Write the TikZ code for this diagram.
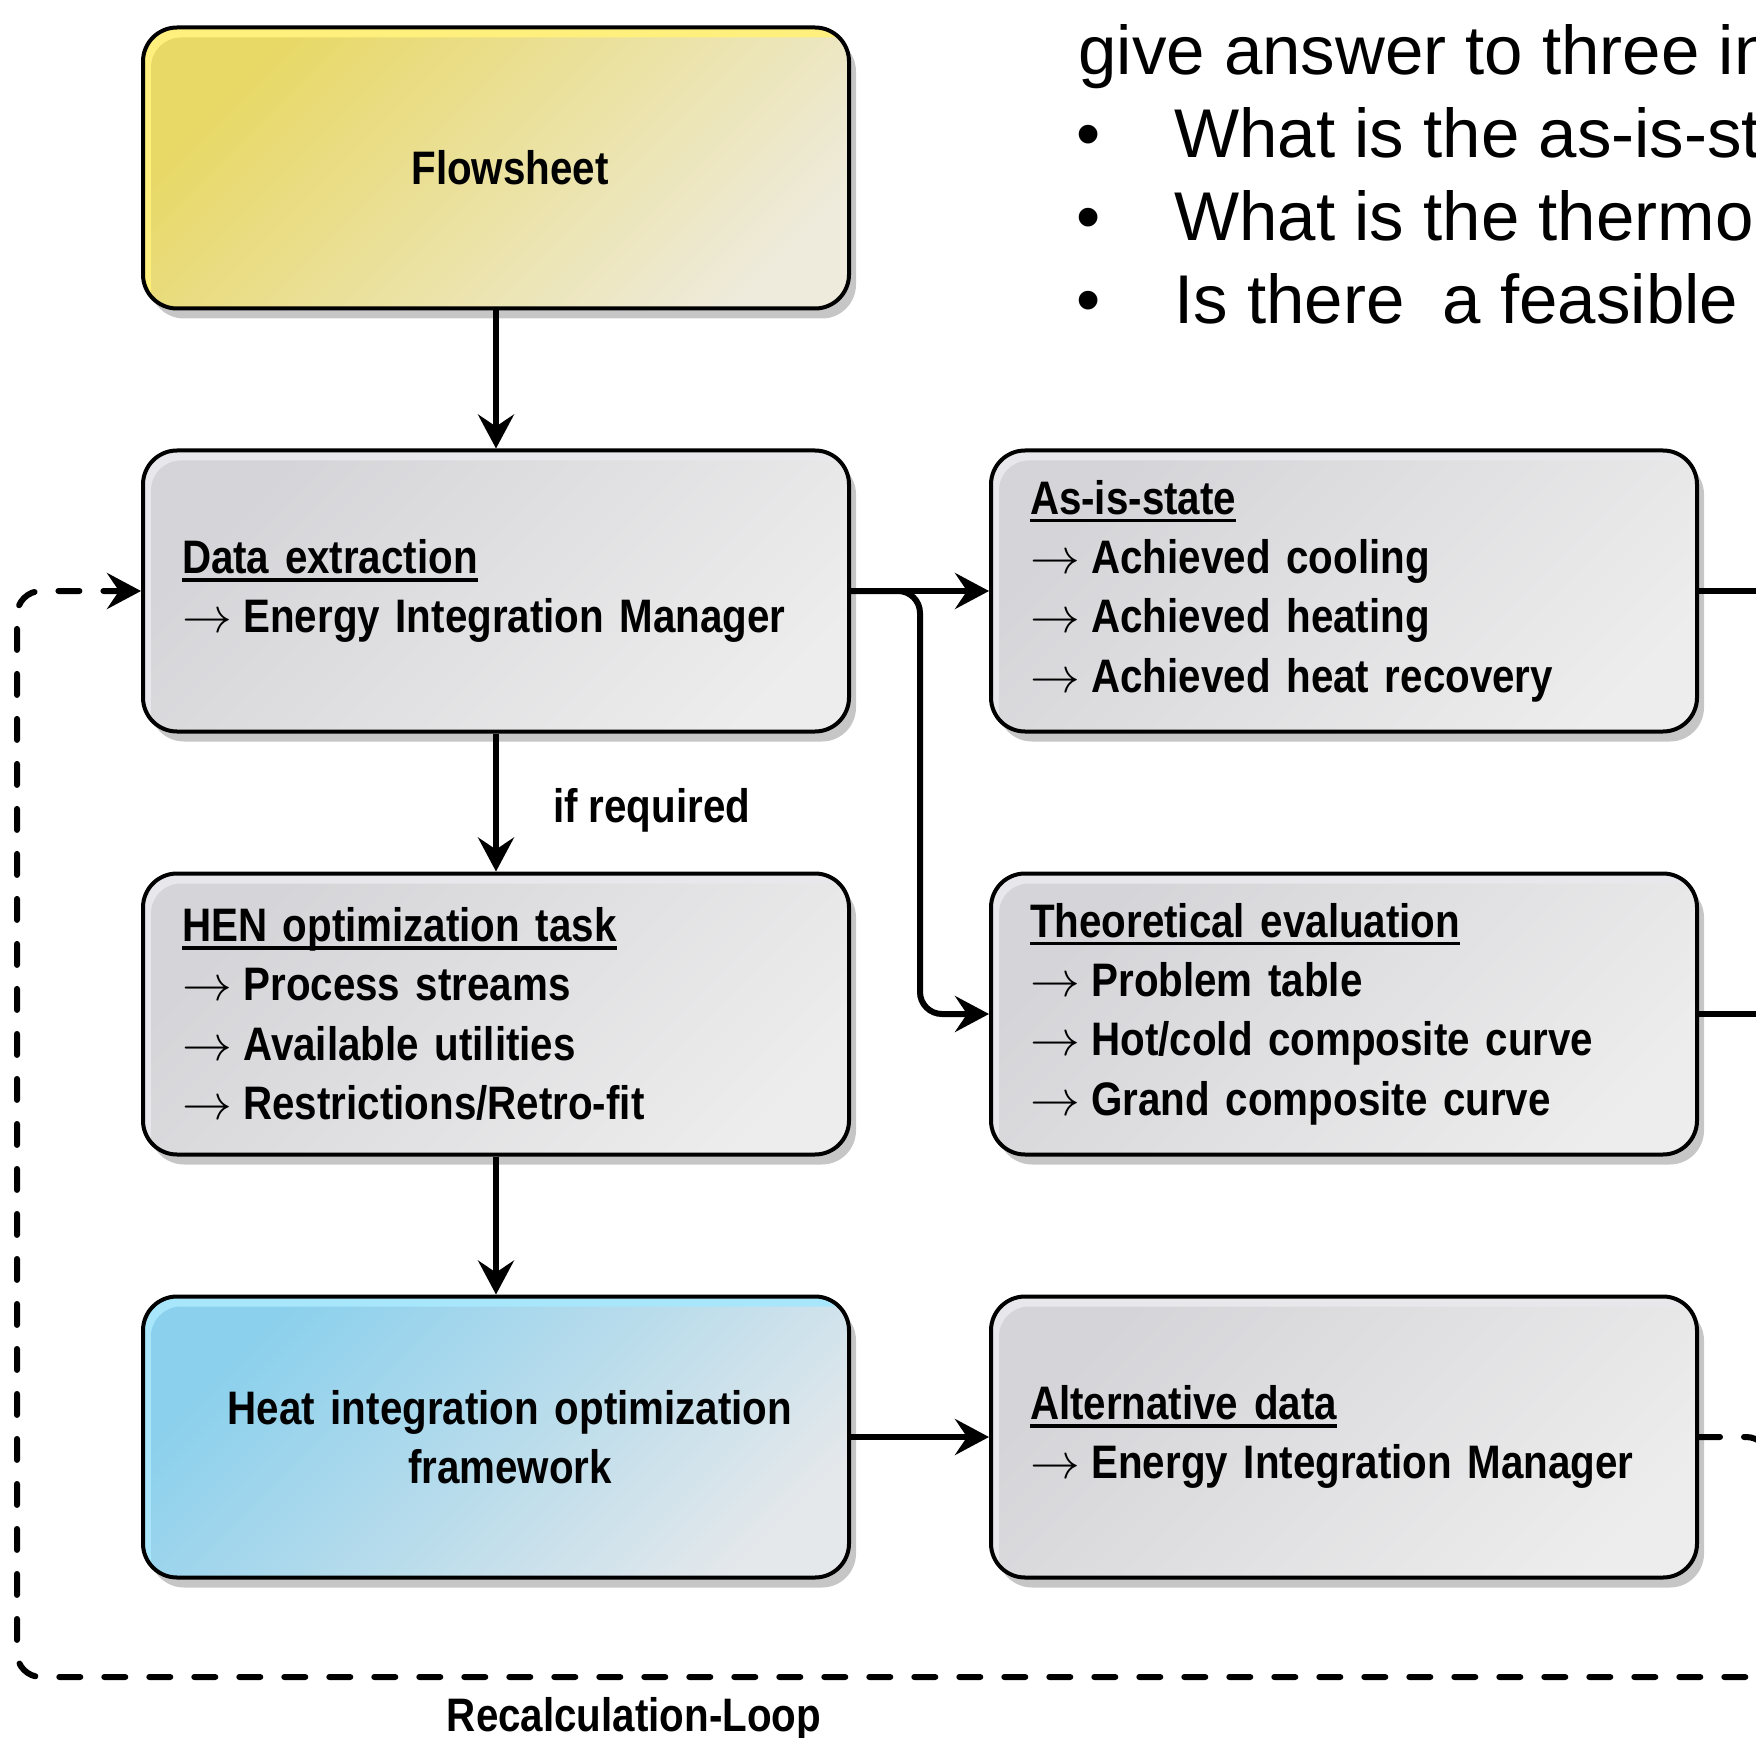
\documentclass[tikz,border=0pt]{standalone}
\usepackage{fontspec}
\usepackage{tikz}
\usetikzlibrary{arrows.meta,calc,shadows}
\newfontfamily\narrowfont[FakeStretch=0.858]{Liberation Sans}
\newfontfamily\notefont{Liberation Sans}
\definecolor{grayA}{HTML}{D5D5D9}
\definecolor{grayB}{HTML}{EDEDED}
\definecolor{grayL}{HTML}{E8E8EC}
\definecolor{yelA}{HTML}{E8D866}
\definecolor{yelB}{HTML}{EEEBDD}
\definecolor{yelL}{HTML}{FFF07E}
\definecolor{bluA}{HTML}{8BD0EC}
\definecolor{bluB}{HTML}{E5E8EB}
\definecolor{bluL}{HTML}{A8E6FC}
\definecolor{shadowgray}{HTML}{C6C6C6}
\newcommand{\boxfont}{\narrowfont\bfseries\fontsize{23.5}{29.7}\selectfont}
\newcommand{\heading}[1]{\setbox0\hbox{#1}\rlap{\rule[-4.1pt]{\wd0}{1.6pt}}\box0}
\newcommand{\arr}{$\rightarrow$\hspace{-2pt} }
\tikzset{
  box/.style n args={3}{draw, line width=2pt, rounded corners=17pt,
    minimum width=353pt, minimum height=140.5pt, inner sep=0pt,
    text width=314pt, font=\boxfont, fill=#3,
    drop shadow={shadow xshift=3.5pt, shadow yshift=-5pt, fill=shadowgray, opacity=1},
    path picture={\shade[draw=none, top color=#1, bottom color=#2, shading angle=45, rounded corners=15pt]
      ([xshift=4pt,yshift=-5pt]path picture bounding box.north west) rectangle
      ([xshift=10pt,yshift=-10pt]path picture bounding box.south east);}},
  graybox/.style={box={grayA}{grayB}{grayL}, align=left},
  yellowbox/.style={box={yelA}{yelB}{yelL}, align=center},
  bluebox/.style={box={bluA}{bluB}{bluL}, align=center},
  conn/.style={line width=3pt, -{Stealth[length=17pt,width=18pt,inset=6pt]}},
  plain/.style={line width=3pt},
  loopline/.style={line width=3pt, dash pattern=on 10.5pt off 12pt, line cap=round,
    rounded corners=12pt, -{Stealth[length=17pt,width=18pt,inset=6pt]}},
  note/.style={font=\notefont\fontsize{34.5}{41.5}\selectfont, inner sep=0pt},
  tag/.style={font=\boxfont, inner sep=0pt}
}

\begin{document}
\begin{tikzpicture}[x=0.5pt,y=-0.5pt]
  \useasboundingbox (0,0) rectangle (1756,1738);
  \clip (0,0) rectangle (1756,1738);

  % boxes, left column
  \node [yellowbox] (flow) at (496,168) {\hspace*{14pt}Flowsheet};
  \node [graybox] (dex) at (496,591) {\heading{Data extraction}\\
    \arr Energy Integration Manager};
  \node [graybox] (hen) at (496,1014) {\heading{HEN optimization task}\\
    \arr Process streams\\
    \arr Available utilities\\
    \arr Restrictions/Retro-fit};
  \node [bluebox] (hif) at (496,1437) {\hspace*{14pt}Heat integration optimization\\
    \hspace*{14pt}framework};

  % boxes, right column
  \node [graybox] (asis) at (1344,591) {\heading{As-is-state}\\
    \arr Achieved cooling\\
    \arr Achieved heating\\
    \arr Achieved heat recovery};
  \node [graybox] (theo) at (1344,1014) {\heading{Theoretical evaluation}\\
    \arr Problem table\\
    \arr Hot/cold composite curve\\
    \arr Grand composite curve};
  \node [graybox] (alt) at (1344,1437) {\heading{Alternative data}\\
    \arr Energy Integration Manager};

  % text top right
  \node [note, anchor=base west] (q0) at (1078,75) {give answer to three in};
  \node [note, anchor=base] (b1) at (1089,158) {•};
  \node [note, anchor=base west] (q1) at (1174,158) {What is the as-is-st};
  \node [note, anchor=base] (b2) at (1089,241) {•};
  \node [note, anchor=base west] (q2) at (1174,241) {What is the thermo};
  \node [note, anchor=base] (b3) at (1089,324) {•};
  \node [note, anchor=base west] (q3) at (1174,324) {Is there\ \ a feasible};

  \node [tag, anchor=base] (recalc) at (634,1731) {Recalculation-Loop};

  \coordinate (asisout) at (1790,591);
  \coordinate (theoout) at (1790,1014);
  \coordinate (loopA) at (1770,1437);
  \coordinate (loopB) at (1770,1677);
  \coordinate (loopC) at (17,1677);
  \coordinate (loopD) at (17,591);

  % connectors
  \draw [conn] (flow) -- (dex);
  \draw [conn] (dex) -- (hen)
    node [tag, midway, anchor=base west, xshift=27pt, yshift=-10pt] (ifreq) {if required};
  \draw [conn] (hen) -- (hif);
  \draw [conn] (dex.east) -- (asis.west);
  \draw [conn, rounded corners=11pt] (dex.east) -- ($(dex.east)!.5!(asis.west)$) |- (theo.west);
  \draw [conn] (hif.east) -- (alt.west);
  \draw [plain] (asis.east) -- (asisout);
  \draw [plain] (theo.east) -- (theoout);
  \draw [loopline] (alt.east) -- (loopA) -- (loopB) -- (loopC) -- (loopD) -- (dex.west);
\end{tikzpicture}
\end{document}
